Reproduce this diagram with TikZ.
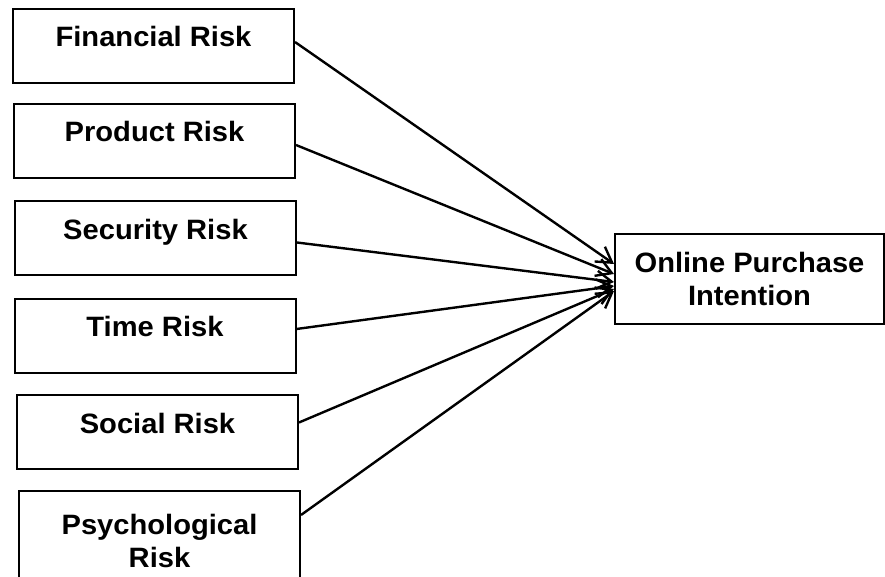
\documentclass[tikz,border=0pt]{standalone}
\usepackage{fontspec}
\setmainfont{Liberation Sans}[FakeStretch=1.04]
\usepackage{tikz}
\usetikzlibrary{arrows.meta}

\tikzset{
  boxfont/.style={font=\bfseries\fontsize{14}{16.75}\selectfont},
  riskbox/.style={draw, line width=1pt, boxfont, minimum width=140.5pt, inner sep=0pt, text height=19pt, text depth=18pt},
  tallbox/.style={draw, line width=1pt, boxfont, align=center, inner sep=0pt},
  link/.style={-{Straight Barb[length=7.5pt,width=9pt]}, line width=1.2pt}
}

\begin{document}
\begin{tikzpicture}[x=0.5pt, y=-0.5pt]
  \useasboundingbox (0,0) rectangle (885,577);

  % risk factors
  \node[riskbox] (fin) at (153.5,46) {Financial Risk};
  \node[riskbox] (prod) at (154.5,141) {Product Risk};
  \node[riskbox] (sec) at (155.5,238.5) {Security Risk};
  \node[riskbox] (time) at (155,336) {Time Risk};
  \node[riskbox] (soc) at (157.5,432.5) {Social Risk};
  \node[tallbox, minimum width=140.5pt, minimum height=50pt] (psy) at (159.5,541) {Psychological\\Risk};

  % outcome
  \node[tallbox, minimum width=134.5pt, minimum height=45pt] (opi) at (749.5,279) {Online Purchase\\Intention};

  \path[link]
  ([yshift=2pt]fin.east) edge ([yshift=7.5pt]opi.west)
  ([yshift=-2pt]prod.east) edge ([yshift=2.5pt]opi.west)
  ([yshift=-2pt]sec.east) edge ([yshift=-1.5pt]opi.west)
  ([yshift=3.5pt]time.east) edge ([yshift=-3.5pt]opi.west)
  ([yshift=5pt]soc.east) edge ([yshift=-5pt]opi.west)
  ([yshift=13pt]psy.east) edge ([yshift=-6pt]opi.west)
  ;
\end{tikzpicture}
\end{document}
